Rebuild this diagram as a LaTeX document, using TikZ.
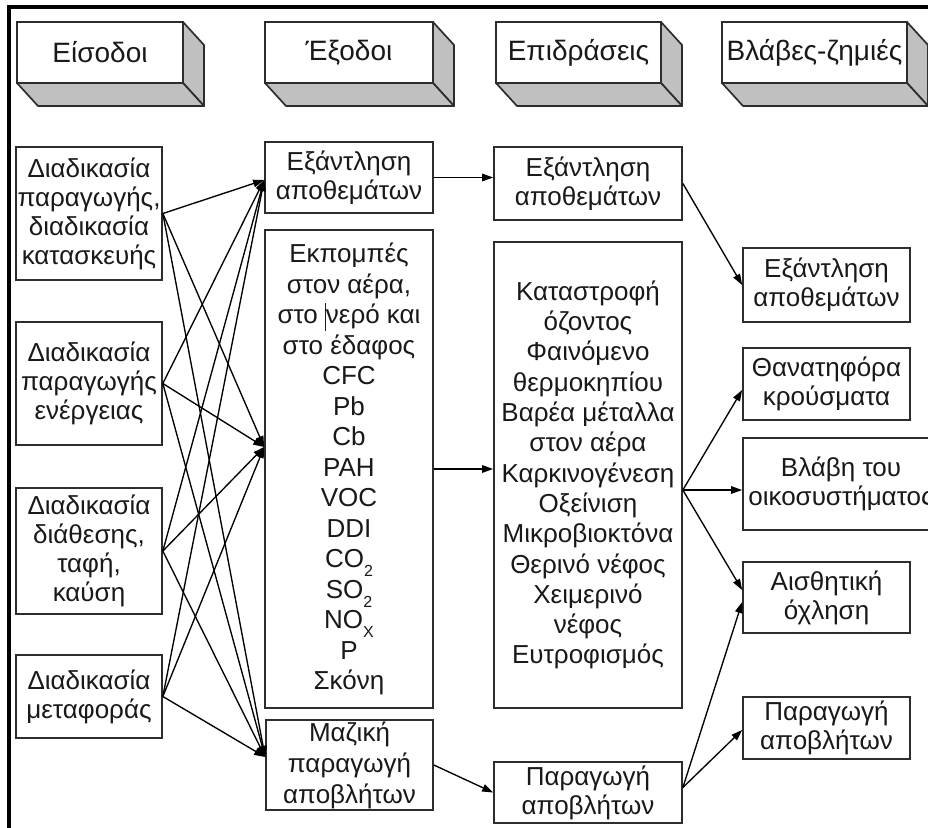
\documentclass[tikz,border=0pt]{standalone}
\usepackage{fontspec}
\setmainfont{Liberation Sans}
\usetikzlibrary{arrows.meta,calc}
\definecolor{boxline}{RGB}{45,45,45}
\definecolor{txt}{RGB}{25,25,25}
\definecolor{facegray}{RGB}{192,192,192}
% lowered, fairly large subscript as used in the formulas
\newcommand\lowsub[1]{\raisebox{-0.36em}{\fontsize{16}{16}\selectfont #1}}

\begin{document}
\begin{tikzpicture}[x=1pt,y=-1pt,
  box/.style={draw=boxline,line width=1.7pt,fill=white,align=center,inner sep=0pt,
    text=txt,font=\fontsize{26}{29}\selectfont},
  headbox/.style={draw=boxline,line width=1.7pt,fill=white,inner sep=0pt,outer sep=0pt,
    minimum height=61,text=txt,font=\fontsize{28}{32}\selectfont},
  face/.style={draw=boxline,line width=1.7pt,fill=facegray,line join=round},
  link/.style={draw=black,line width=1.35pt,-{Triangle[length=11pt,width=7.5pt]}}]

\useasboundingbox (0,0) rectangle (928,827);
\clip (0,0) rectangle (928,827);
\fill[white] (0,0) rectangle (928,827);

% outer frame (top and left)
\draw[line width=3.5pt] (9,7) -- (930,7);
\draw[line width=3.5pt] (9,5.25) -- (9,830);

% column headers drawn as blocks
\node[headbox,minimum width=166] (h1) at (100,52.5) {Είσοδοι};
\node[headbox,minimum width=168] (h2) at (349,52.5) {Έξοδοι};
\node[headbox,minimum width=165] (h3) at (578.5,52.5) {Επιδράσεις};
\node[headbox,minimum width=185] (h4) at (814.5,52.5) {Βλάβες-ζημιές};
\foreach \h in {h1,h2,h3,h4}{
  \filldraw[face] (\h.north east) -- ($(\h.north east)+(21,23)$)
     -- ($(\h.south east)+(21,23)$) -- (\h.south east) -- cycle;
  \filldraw[face] (\h.south west) -- ($(\h.south west)+(21,23)$)
     -- ($(\h.south east)+(21,23)$) -- (\h.south east) -- cycle;
}

% inputs
\node[box,minimum width=146,minimum height=133] (A) at (89,213.5)
  {Διαδικασία\\παραγωγής,\\διαδικασία\\κατασκευής};
\node[box,minimum width=146,minimum height=123] (B) at (89,383.5)
  {Διαδικασία\\παραγωγής\\ενέργειας};
\node[box,minimum width=146,minimum height=126] (C) at (89,551)
  {Διαδικασία\\διάθεσης,\\ταφή,\\καύση};
\node[box,minimum width=146,minimum height=83] (D) at (89,696.5)
  {Διαδικασία\\μεταφοράς};

% outputs
\node[box,minimum width=168,minimum height=71] (E) at (349,177.5)
  {Εξάντληση\\αποθεμάτων};
\node[box,minimum width=168,minimum height=478,font=\fontsize{26}{30.5}\selectfont] (F) at (349,469)
  {Εκπομπές\\στον αέρα,\\στο \rule[-0.3em]{0.8pt}{1.1em}νερό και\\στο έδαφος\\CFC\\Pb\\Cb\\PAH\\VOC\\DDI\\
   CO\lowsub{2}\\SO\lowsub{2}\\NO\lowsub{X}\\P\\Σκόνη};
\node[box,minimum width=167,minimum height=90,font=\fontsize{26}{31}\selectfont] (J) at (349.5,765)
  {Μαζική\\παραγωγή\\αποβλήτων};

% effects
\node[box,minimum width=188,minimum height=73] (G) at (588,183.5)
  {Εξάντληση\\αποθεμάτων};
\node[box,minimum width=188,minimum height=466,font=\fontsize{26}{30.3}\selectfont] (H) at (588,475)
  {Καταστροφή\\όζοντος\\Φαινόμενο\\θερμοκηπίου\\Βαρέα μέταλλα\\στον αέρα\\Καρκινογένεση\\
   Οξείνιση\\Μικροβιοκτόνα\\Θερινό νέφος\\Χειμερινό\\νέφος\\Ευτροφισμός};
\node[box,minimum width=188,minimum height=61] (I) at (588,792.5)
  {Παραγωγή\\αποβλήτων};

% damages
\node[box,minimum width=167,minimum height=74] (K) at (826.5,285)
  {Εξάντληση\\αποθεμάτων};
\node[box,minimum width=167,minimum height=72] (L) at (826.5,384)
  {Θανατηφόρα\\κρούσματα};
\node[box,minimum width=196,minimum height=92] (M) at (841,484)
  {Βλάβη του\\οικοσυστήματος};
\node[box,minimum width=167,minimum height=71] (N) at (826.5,597.5)
  {Αισθητική\\όχληση};
\node[box,minimum width=167,minimum height=62] (O) at (826.5,728)
  {Παραγωγή\\αποβλήτων};

% inputs -> outputs
\foreach \s in {A,B,C,D}{
  \draw[link] (\s.east) -- ([yshift=-2.5pt]E.west);
  \draw[link] (\s.east) -- ([yshift=22pt]F.west);
  \draw[link] (\s.east) -- ([yshift=8pt]J.west);
}

% outputs -> effects
\draw[link] (E.east) -- (E.east -| G.west);
\draw[link] (F.east) -- (F.east -| H.west);
\draw[link] (J.east) -- (I.west);

% effects -> damages
\coordinate (Hs) at ([yshift=-15pt]H.east);
\coordinate (Is) at ([yshift=5pt]I.east);
\draw[link] (G.east) -- (K.west);
\draw[link] (Hs) -- ([yshift=-6pt]L.west);
\draw[link] (Hs) -- (Hs -| M.west);
\draw[link] (Hs) -- ([yshift=7.5pt]N.west);
\draw[link] (Is) -- ([yshift=-4.5pt]N.west);
\draw[link] (Is) -- ([yshift=-2pt]O.west);
\end{tikzpicture}
\end{document}
